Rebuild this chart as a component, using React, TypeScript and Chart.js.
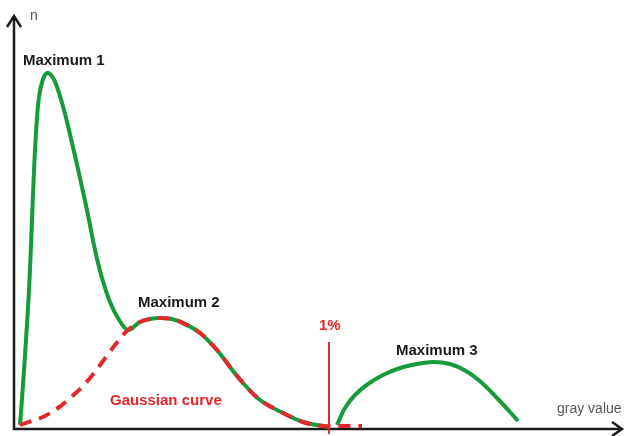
import React, { useEffect, useRef } from "react";
import { Chart, registerables } from "chart.js";

Chart.register(...registerables);

// Maximum 1 + falling flank joining the Gaussian (gray value, n)
const green1X = [3, 4.5, 6, 7.5, 8.5, 9.5, 10.25, 11.25, 12.5, 14.5, 16.5, 18.5, 21, 25, 29, 33, 37, 40.5, 44, 48, 52, 57, 63, 68, 73, 79, 84.5, 93, 101.5, 108, 114.5, 123, 134.5, 144.5, 154.5, 157.5];
const green1Y = [1, 11, 22.25, 34.75, 46, 58.5, 67.25, 76, 83, 87.5, 89, 88.5, 86.25, 79.75, 71.5, 62.75, 53.5, 44.75, 37.75, 31.75, 27.75, 24.75, 26.75, 27.5, 27.75, 27.5, 26.5, 24, 19.75, 15.5, 11.5, 7.25, 4, 1.75, 0.75, 0.5];

// Gaussian curve (dashed)
const gaussX = [3, 9, 15.5, 22, 28, 34, 40, 46, 52, 57, 63, 68, 73, 79, 84.5, 93, 101.5, 108, 114.5, 123, 134.5, 144.5, 154.5, 163, 174];
const gaussY = [1, 2, 3.25, 5.25, 7.75, 10.5, 14, 18, 22, 24.75, 26.75, 27.5, 27.75, 27.5, 26.5, 24, 19.75, 15.5, 11.5, 7.25, 4, 1.75, 0.75, 0.75, 0.75];

// Maximum 3
const green3X = [161.5, 165.5, 170.5, 177, 184.5, 193, 201.5, 209.5, 218, 226, 234, 241.5, 248, 252];
const green3Y = [1, 5.25, 8.5, 11.25, 13.5, 15.25, 16.25, 16.75, 16.25, 14.5, 11.5, 7.75, 4.25, 2];

// 1% threshold
const thresholdX = [157.5, 157.5];
const thresholdY = [21.75, -1.25];

const X_MAX = 304;
const Y_MAX = 103.25;

const GREEN = "#169a3c";
const RED = "#e5262b";
const AXIS = "#1c1c1c";

const labels = [
  { text: "n", x: 30, y: 20, font: "normal 14px 'Liberation Sans', Arial, sans-serif", color: "#555555" },
  { text: "Maximum 1", x: 23, y: 65, font: "bold 15px 'Liberation Sans', Arial, sans-serif", color: "#1a1a1a" },
  { text: "Maximum 2", x: 138, y: 307, font: "bold 15px 'Liberation Sans', Arial, sans-serif", color: "#1a1a1a" },
  { text: "1%", x: 319, y: 330, font: "bold 15px 'Liberation Sans', Arial, sans-serif", color: RED },
  { text: "Maximum 3", x: 396, y: 355, font: "bold 15px 'Liberation Sans', Arial, sans-serif", color: "#1a1a1a" },
  { text: "Gaussian curve", x: 110, y: 405, font: "bold 15px 'Liberation Sans', Arial, sans-serif", color: RED },
  { text: "gray value", x: 557, y: 413, font: "normal 14px 'Liberation Sans', Arial, sans-serif", color: "#555555" },
];

const toPts = (xs: number[], ys: number[]) => xs.map((x, i) => ({ x, y: ys[i] }));

const axesPlugin = {
  id: "arrowAxes",
  beforeDatasetsDraw(chart: any) {
    const { ctx, chartArea } = chart;
    const { left, right, top, bottom } = chartArea;
    ctx.save();
    ctx.strokeStyle = AXIS;
    ctx.lineWidth = 2.5;
    ctx.lineCap = "butt";
    ctx.beginPath();
    ctx.moveTo(left, bottom + 1.25);
    ctx.lineTo(left, top + 1);
    ctx.moveTo(left - 1.25, bottom);
    ctx.lineTo(right - 1, bottom);
    ctx.stroke();
    ctx.lineJoin = "miter";
    ctx.beginPath();
    ctx.moveTo(left - 7, top + 11);
    ctx.lineTo(left, top);
    ctx.lineTo(left + 7, top + 11);
    ctx.moveTo(right - 10, bottom - 7);
    ctx.lineTo(right, bottom);
    ctx.lineTo(right - 10, bottom + 7);
    ctx.stroke();
    ctx.restore();
  },
  afterDraw(chart: any) {
    const { ctx } = chart;
    ctx.save();
    ctx.textAlign = "left";
    ctx.textBaseline = "alphabetic";
    for (const l of labels) {
      ctx.font = l.font;
      ctx.fillStyle = l.color;
      ctx.fillText(l.text, l.x, l.y);
    }
    ctx.restore();
  },
};

export default function App() {
  const ref = useRef<HTMLCanvasElement>(null);
  useEffect(() => {
    if (!ref.current) return;
    const chart = new Chart(ref.current, {
      type: "line",
      data: {
        datasets: [
          {
            label: "1%",
            data: toPts(thresholdX, thresholdY),
            borderColor: RED,
            borderWidth: 2,
            pointRadius: 0,
            tension: 0,
            clip: false as any,
            order: 0,
          },
          {
            label: "Gaussian curve",
            data: toPts(gaussX, gaussY),
            borderColor: RED,
            borderWidth: 4,
            borderDash: [12, 8],
            pointRadius: 0,
            tension: 0.35,
            clip: false as any,
            order: 1,
          },
          {
            label: "Maximum 1 / 2",
            data: toPts(green1X, green1Y),
            borderColor: GREEN,
            borderWidth: 4,
            pointRadius: 0,
            tension: 0.35,
            clip: false as any,
            order: 2,
          },
          {
            label: "Maximum 3",
            data: toPts(green3X, green3Y),
            borderColor: GREEN,
            borderWidth: 4,
            pointRadius: 0,
            tension: 0.35,
            clip: false as any,
            order: 2,
          },
        ],
      },
      options: {
        responsive: false,
        animation: false,
        parsing: false as any,
        layout: { padding: { left: 14, right: 6, top: 16, bottom: 7 } },
        plugins: { legend: { display: false }, tooltip: { enabled: false } },
        scales: {
          x: { type: "linear", min: 0, max: X_MAX, display: false },
          y: { type: "linear", min: 0, max: Y_MAX, display: false },
        },
      },
      plugins: [axesPlugin],
    });
    return () => chart.destroy();
  }, []);
  return (
    <div style={{ position: "absolute", left: 0, top: 0, width: 628, height: 436, background: "#fff" }}>
      <canvas ref={ref} width={628} height={436} style={{ display: "block" }} />
    </div>
  );
}
